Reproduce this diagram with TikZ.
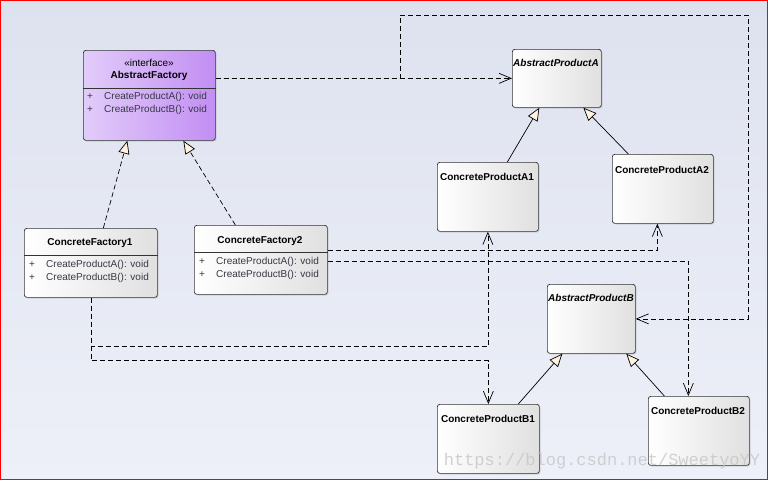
\documentclass[tikz,border=0pt]{standalone}
\usepackage{fontspec}
\setmainfont{Liberation Sans}
\setmonofont{Liberation Mono}
\usepackage{tikz}
\usetikzlibrary{arrows.meta,positioning,shadows}

\definecolor{bgtop}{RGB}{222,226,239}
\definecolor{bgbot}{RGB}{237,240,248}
\definecolor{ifleft}{RGB}{226,204,250}
\definecolor{ifright}{RGB}{194,142,243}
\definecolor{boxgray}{RGB}{224,224,224}
\definecolor{tipfill}{RGB}{255,243,224}
\definecolor{methtext}{RGB}{55,55,70}

\begin{document}
\begin{tikzpicture}[x=1pt, y=-1pt,
    classbox/.style={draw=black!80, line width=0.7pt, rounded corners=2.5pt, anchor=north west, inner sep=0pt, left color=white, right color=boxgray, drop shadow={shadow xshift=1.2pt, shadow yshift=-1.2pt, opacity=0.25}},
    clstitle/.style={font=\fontsize{10}{12}\selectfont\bfseries, inner sep=0pt},
    method/.style={font=\fontsize{10}{12}\selectfont, text=methtext, anchor=west, inner sep=0pt},
    dep/.style={-{Straight Barb[length=12pt, width=10pt]}, dash pattern=on 5pt off 3pt, line width=0.7pt},
    real/.style={-{Triangle[length=13pt, width=11pt, fill=tipfill]}, dash pattern=on 5pt off 3pt, line width=0.7pt},
    gen/.style={-{Triangle[length=13pt, width=11pt, fill=tipfill]}, line width=0.7pt}
]
    % Background
    \useasboundingbox (0,0) rectangle (768,480);
    \draw[red, line width=1pt, top color=bgtop, bottom color=bgbot] (0.5,0.5) rectangle (767.5,479.5);

    % AbstractFactory
    \node[classbox, left color=ifleft, right color=ifright, minimum width=132pt, minimum height=90pt] (af) at (83,50) {};
    \draw[black!80, line width=0.7pt] ([yshift=-38pt]af.north west) -- ([yshift=-38pt]af.north east);
    \node[clstitle, font=\fontsize{10}{12}\selectfont] (afst) at (149,63) {«interface»};
    \node[clstitle] (aftitle) at (149,76) {AbstractFactory};
    \node[method] (afp1) at (87,97) {+};
    \node[method] (afp2) at (87,110) {+};
    \node[method] (afm1) at (104,97) {CreateProductA(): void};
    \node[method] (afm2) at (104,110) {CreateProductB(): void};

    % ConcreteFactory1
    \node[classbox, minimum width=133pt, minimum height=69pt] (cf1) at (24,228) {};
    \draw[black!80, line width=0.7pt] ([yshift=-27pt]cf1.north west) -- ([yshift=-27pt]cf1.north east);
    \node[clstitle] (cf1title) at (90,243) {ConcreteFactory1};
    \node[method] (cf1p1) at (29,265) {+};
    \node[method] (cf1p2) at (29,278) {+};
    \node[method] (cf1m1) at (46,265) {CreateProductA(): void};
    \node[method] (cf1m2) at (46,278) {CreateProductB(): void};

    % ConcreteFactory2
    \node[classbox, minimum width=133pt, minimum height=69pt] (cf2) at (194,225) {};
    \draw[black!80, line width=0.7pt] ([yshift=-27pt]cf2.north west) -- ([yshift=-27pt]cf2.north east);
    \node[clstitle] (cf2title) at (260,241) {ConcreteFactory2};
    \node[method] (cf2p1) at (199,262) {+};
    \node[method] (cf2p2) at (199,275) {+};
    \node[method] (cf2m1) at (216,262) {CreateProductA(): void};
    \node[method] (cf2m2) at (216,275) {CreateProductB(): void};

    % Products A
    \node[classbox, minimum width=89pt, minimum height=58pt] (apa) at (512,49) {};
    \node[clstitle, font=\fontsize{10}{12}\selectfont\bfseries\itshape] (apatitle) at (556,63) {AbstractProductA};
    \node[classbox, minimum width=101pt, minimum height=69pt] (a1) at (437,162) {};
    \node[clstitle] (a1title) at (487,177) {ConcreteProductA1};
    \node[classbox, minimum width=101pt, minimum height=69pt] (a2) at (612,154) {};
    \node[clstitle] (a2title) at (662,170) {ConcreteProductA2};

    % Products B
    \node[classbox, minimum width=88pt, minimum height=69pt] (apb) at (547,284) {};
    \node[clstitle, font=\fontsize{10}{12}\selectfont\bfseries\itshape] (apbtitle) at (591,298) {AbstractProductB};
    \node[classbox, minimum width=102pt, minimum height=69pt] (b1) at (437,404) {};
    \node[clstitle] (b1title) at (488,419) {ConcreteProductB1};
    \node[classbox, minimum width=101pt, minimum height=69pt] (b2) at (648,396) {};
    \node[clstitle] (b2title) at (698,411) {ConcreteProductB2};

    % Loop corners
    \coordinate (loopa) at (400,15);
    \coordinate (loopb) at (748,15);

    % Realizations
    \draw[real] ([xshift=12.5pt]cf1.north) -- ([xshift=-22pt]af.south);
    \draw[real] ([xshift=-25.5pt]cf2.north) -- ([xshift=34pt]af.south);

    % Generalizations
    \draw[gen] ([xshift=19.5pt]a1.north) -- ([xshift=-17.5pt]apa.south);
    \draw[gen] ([xshift=-34.5pt]a2.north) -- ([xshift=26.5pt]apa.south);
    \draw[gen] ([xshift=30pt]b1.north) -- ([xshift=-29pt]apb.south);
    \draw[gen] ([xshift=-34.5pt]b2.north) -- ([xshift=35pt]apb.south);

    % Dependencies
    \draw[dep] (af.east |- apa.west) -- (apa.west);
    \draw[dep] (af.east |- apa.west) -- (loopa |- apa.west) -- (loopa) -- (loopb) |- (apb.east);
    \draw[dep] (cf1.south) -- ++(0,49) -| (a1.south);
    \draw[dep] (cf1.south) -- ++(0,63) -| (b1.north);
    \draw[dep] ([yshift=-25pt]cf2.north east) -| ([xshift=-5.5pt]a2.south);
    \draw[dep] ([yshift=-36pt]cf2.north east) -| ([xshift=-10.5pt]b2.north);

    % Watermark
    \node[font=\ttfamily\fontsize{17}{17}\selectfont, text=gray!45, opacity=0.8] (wmark) at (602,461) {https://blog.csdn.net/SweetyoYY};
\end{tikzpicture}
\end{document}
